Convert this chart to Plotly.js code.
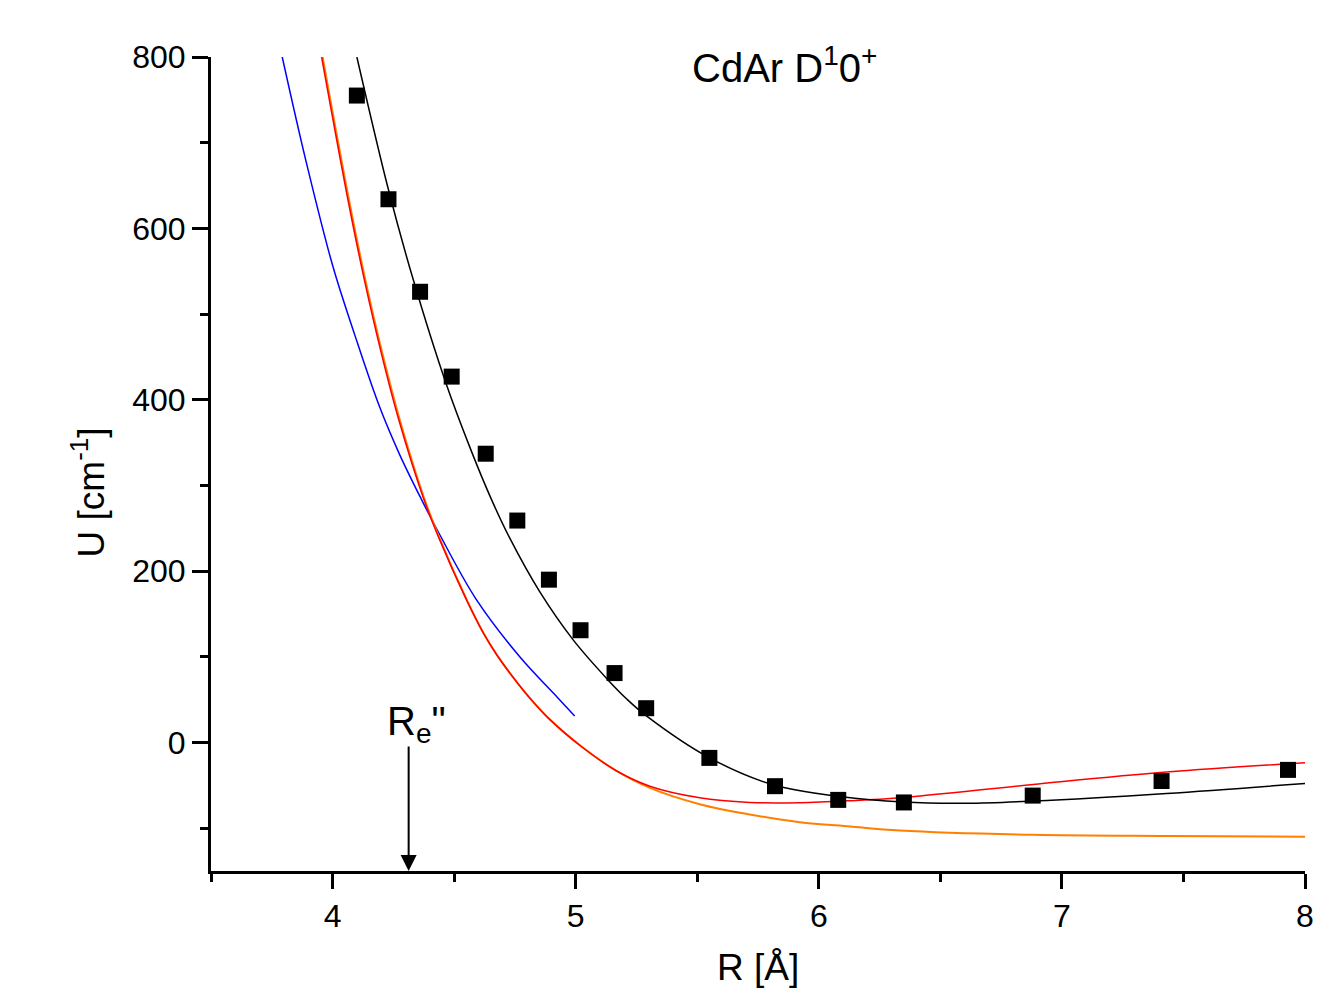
<!DOCTYPE html>
<html>
<head>
<meta charset="utf-8">
<script src="https://cdn.plot.ly/plotly-3.0.1.min.js"></script>
<style>html,body{margin:0;padding:0;background:#fff;}#chart{width:1342px;height:997px;}</style>
</head>
<body>
<div id="chart"></div>
<script>
// Experimental points (squares)
const expR = [4.10, 4.23, 4.36, 4.49, 4.63, 4.76, 4.89, 5.02, 5.16, 5.29, 5.55, 5.82, 6.08, 6.35, 6.88, 7.41, 7.93];
const expU = [755, 634, 526, 427, 337, 259, 190, 131, 81, 40, -18, -51, -67, -70, -62, -45, -32];

// Black fitted curve
const fitR = [4.10, 4.23, 4.33, 4.468, 4.571, 4.653, 4.728, 4.852, 4.989, 5.133, 5.209, 5.291, 5.551, 5.819, 6.086, 6.347, 6.608, 6.882, 7.431, 8.00];
const fitU = [800, 645, 542, 418, 340, 284, 239, 176, 120, 73, 51, 31, -18, -50, -63, -69.6, -71, -68.4, -59.5, -47.8];

// Blue curve
const blueR = [3.793, 3.892, 4.001, 4.091, 4.193, 4.276, 4.365, 4.44, 4.591, 4.77, 4.927, 4.996];
const blueU = [800, 677, 556, 476, 392, 336, 284, 243, 167, 100, 52, 31];

// Red curve
const redR = [3.955, 4.063, 4.13, 4.20, 4.27, 4.374, 4.44, 4.55, 4.62, 4.674, 4.74, 4.811, 4.893, 5.025, 5.167, 5.305, 5.51, 5.716, 5.922, 6.128, 6.333, 6.882, 7.431, 8.00];
const redU = [800, 634, 541, 455, 379, 285, 237, 167, 128, 103, 77, 52, 27, -5, -33, -51, -64.5, -70, -70.3, -68, -64.5, -49, -34.6, -23.7];

// Orange curve
const orangeR = [3.959, 4.067, 4.134, 4.204, 4.274, 4.377, 4.442, 4.551, 4.62, 4.674, 4.74, 4.811, 4.893, 5.025, 5.167, 5.305, 5.51, 5.716, 5.922, 6.128, 6.333, 6.882, 7.431, 8.00];
const orangeU = [800, 634, 541, 455, 379, 285, 237, 167, 128, 103, 77, 52, 27, -5, -33, -53, -72, -84, -93, -98, -102.6, -107.7, -109.2, -110];

// Axis ticks
const xTicks = [4, 5, 6, 7, 8];
const yTicks = [0, 200, 400, 600, 800];

const FONT = '"Liberation Sans", Arial, sans-serif';

const traces = [
  {x: blueR, y: blueU, mode: 'lines', line: {color: '#0000ff', width: 1.5, shape: 'spline', smoothing: 1}, hoverinfo: 'skip'},
  {x: orangeR, y: orangeU, mode: 'lines', line: {color: '#ff8000', width: 2, shape: 'spline', smoothing: 1}, hoverinfo: 'skip'},
  {x: redR, y: redU, mode: 'lines', line: {color: '#ff0000', width: 1.5, shape: 'spline', smoothing: 1}, hoverinfo: 'skip'},
  {x: fitR, y: fitU, mode: 'lines', line: {color: '#000000', width: 1.5, shape: 'spline', smoothing: 1}, hoverinfo: 'skip'},
  {x: expR, y: expU, mode: 'markers', marker: {symbol: 'square', size: 16, color: '#000000'}, hoverinfo: 'skip'}
];

const layout = {
  width: 1342, height: 997,
  margin: {l: 211, r: 37, t: 57, b: 126},
  paper_bgcolor: '#fff', plot_bgcolor: '#fff',
  showlegend: false,
  font: {family: FONT, color: '#000'},
  xaxis: {
    range: [3.5, 8], tickvals: xTicks, ticktext: xTicks.map(String),
    showgrid: false, zeroline: false, showline: true, linecolor: '#000', linewidth: 3,
    ticks: 'outside', ticklen: 15, tickwidth: 3, tickcolor: '#000',
    tickfont: {size: 32, family: FONT},
    minor: {dtick: 0.5, tick0: 3.5, ticks: 'outside', ticklen: 8, tickwidth: 3, tickcolor: '#000', showgrid: false},
    fixedrange: true
  },
  yaxis: {
    range: [-150, 800], tickvals: yTicks, ticktext: yTicks.map(String),
    showgrid: false, zeroline: false, showline: true, linecolor: '#000', linewidth: 3,
    ticks: 'outside', ticklen: 16, tickwidth: 3, tickcolor: '#000',
    tickfont: {size: 32, family: FONT},
    minor: {dtick: 100, tick0: -100, ticks: 'outside', ticklen: 8, tickwidth: 3, tickcolor: '#000', showgrid: false},
    fixedrange: true
  },
  annotations: [
    {xref: 'paper', yref: 'paper', x: 0.524, y: 0.99, text: 'CdAr D<sup>1</sup>0<sup>+</sup>', showarrow: false,
     font: {size: 40, family: FONT}, xanchor: 'center', yanchor: 'middle'},
    {xref: 'paper', yref: 'paper', x: 0.5, y: -0.119, text: 'R [Å]', showarrow: false,
     font: {size: 37, family: FONT}, xanchor: 'center', yanchor: 'middle'},
    {xref: 'paper', yref: 'paper', x: -0.112, y: 0.4656, text: 'U [cm<sup>-1</sup>]', showarrow: false, textangle: -90,
     font: {size: 37, family: FONT}, xanchor: 'center', yanchor: 'middle'},
    {xref: 'x', yref: 'y', x: 4.345, y: 22, text: 'R<sub>e</sub>"', showarrow: false,
     font: {size: 40, family: FONT}, xanchor: 'center', yanchor: 'middle'},
    {xref: 'x', yref: 'y', x: 4.313, y: -150, axref: 'x', ayref: 'y', ax: 4.313, ay: -3, text: '',
     showarrow: true, arrowhead: 2, arrowsize: 1.6, arrowwidth: 2, arrowcolor: '#000', standoff: 0}
  ]
};

Plotly.newPlot('chart', traces, layout, {staticPlot: true, displayModeBar: false});
</script>
</body>
</html>
